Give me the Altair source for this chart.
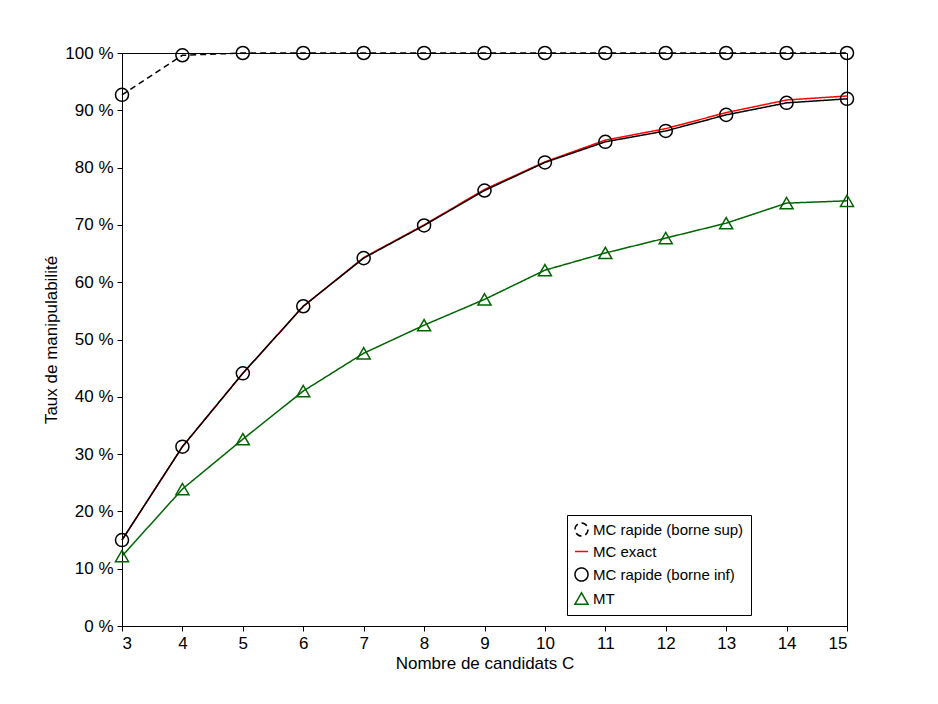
import altair as alt
import pandas as pd

candidats = list(range(3, 16))
borne_sup = [92.7, 99.6, 100, 100, 100, 100, 100, 100, 100, 100, 100, 100, 100]
mc_exact = [15.0, 31.3, 44.1, 55.8, 64.3, 70.0, 76.2, 81.0, 84.8, 86.8, 89.6, 91.8, 92.5]
borne_inf = [15.0, 31.3, 44.1, 55.8, 64.2, 69.9, 76.0, 80.9, 84.5, 86.4, 89.2, 91.3, 92.0]
mt = [12.2, 23.9, 32.6, 41.0, 47.6, 52.5, 57.0, 62.1, 65.1, 67.7, 70.3, 73.8, 74.2]

noms = ["MC rapide (borne sup)", "MC exact", "MC rapide (borne inf)", "MT"]
series = [borne_sup, mc_exact, borne_inf, mt]
rows = []
for nom, vals in zip(noms, series):
    for c, v in zip(candidats, vals):
        rows.append({"C": c, "taux": v, "serie": nom})
df = pd.DataFrame(rows)

couleurs = ["black", "#ff0000", "black", "#006400"]
formes = ["circle", "stroke", "circle", "triangle-up"]
tirets = [[6, 4], [1, 0], [1, 0], [1, 0]]

leg = alt.Legend(
    title=None, orient="none", legendX=445, legendY=462, direction="vertical",
    fillColor="white", strokeColor="black", padding=7, labelFontSize=15,
    labelFont="Liberation Sans", labelColor="black", symbolSize=170,
    symbolStrokeWidth=1.5, symbolOpacity=1, rowPadding=4, labelLimit=300,
)

x = alt.X("C:Q", title="Nombre de candidats C",
          scale=alt.Scale(domain=[3, 15], nice=False),
          axis=alt.Axis(values=candidats, grid=False, format="d"))
y = alt.Y("taux:Q", title="Taux de manipulabilité",
          scale=alt.Scale(domain=[0, 100], nice=False),
          axis=alt.Axis(values=list(range(0, 101, 10)), grid=False,
                        labelExpr="datum.value + ' %'"))
color = alt.Color("serie:N", scale=alt.Scale(domain=noms, range=couleurs), legend=leg)

lignes = alt.Chart(df).mark_line(strokeWidth=1.5).encode(
    x=x, y=y, color=color,
    strokeDash=alt.StrokeDash("serie:N", scale=alt.Scale(domain=noms, range=tirets), legend=leg),
    order=alt.Order("C:Q"),
)
points = alt.Chart(df).transform_filter(alt.datum.serie != "MC exact").mark_point(
    filled=False, size=170, strokeWidth=1.5, opacity=1
).encode(
    x=x, y=y, color=color,
    shape=alt.Shape("serie:N", scale=alt.Scale(domain=noms, range=formes), legend=leg),
)

chart = (lignes + points).properties(
    width=725, height=573,
    background="white",
    autosize=alt.AutoSizeParams(type="none"),
    padding={"left": 114, "top": 45, "right": 80, "bottom": 70},
).configure_view(stroke="black", strokeWidth=1).configure_axis(
    labelFont="Liberation Sans", titleFont="Liberation Sans",
    labelFontSize=17, titleFontSize=17, titleFontWeight="normal",
    labelColor="black", titleColor="black", domainColor="black", tickColor="black",
    labelPadding=4,
)

chart.save("out.html", embed_options={"renderer": "svg", "actions": False})
